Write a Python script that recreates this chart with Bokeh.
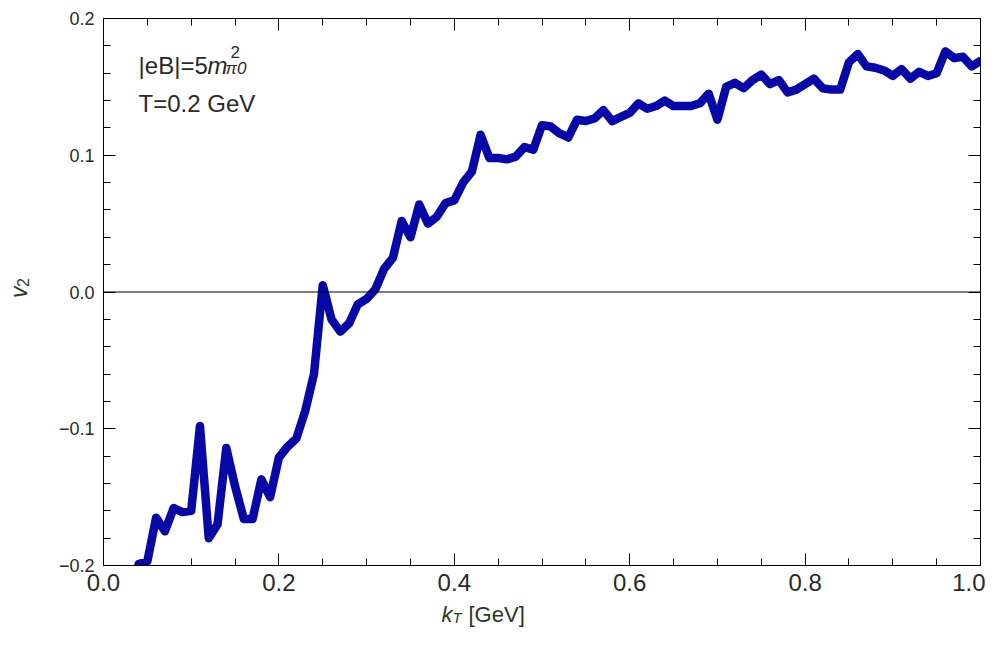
import numpy as np
from bokeh.plotting import figure
from bokeh.models import Range1d, FixedTicker, LinearAxis, Span, Label, CustomJSTickFormatter
from bokeh.layouts import column, row
from bokeh.embed import file_html
from bokeh.resources import INLINE

# ---- data ----
kt = [0.04, 0.05, 0.06, 0.07, 0.08, 0.09, 0.10, 0.11, 0.12, 0.13,
      0.14, 0.15, 0.16, 0.17, 0.18, 0.19, 0.20, 0.21, 0.22, 0.23,
      0.24, 0.25, 0.26, 0.27, 0.28, 0.29, 0.30, 0.31, 0.32, 0.33,
      0.34, 0.35, 0.36, 0.37, 0.38, 0.39, 0.40, 0.41, 0.42, 0.43,
      0.44, 0.45, 0.46, 0.47, 0.48, 0.49, 0.50, 0.51, 0.52, 0.53,
      0.54, 0.55, 0.56, 0.57, 0.58, 0.59, 0.60, 0.61, 0.62, 0.63,
      0.64, 0.65, 0.66, 0.67, 0.68, 0.69, 0.70, 0.71, 0.72, 0.73,
      0.74, 0.75, 0.76, 0.77, 0.78, 0.79, 0.80, 0.81, 0.82, 0.83,
      0.84, 0.85, 0.86, 0.87, 0.88, 0.89, 0.90, 0.91, 0.92, 0.93,
      0.94, 0.95, 0.96, 0.97, 0.98, 0.99, 1.00]

v2 = [-0.199, -0.197, -0.165, -0.175, -0.158, -0.161, -0.160, -0.098, -0.180, -0.170,
      -0.114, -0.142, -0.166, -0.166, -0.137, -0.150, -0.121, -0.113, -0.107, -0.087,
      -0.060, 0.005, -0.020, -0.029, -0.023, -0.009, -0.005, 0.002, 0.017, 0.025,
      0.052, 0.040, 0.064, 0.050, 0.055, 0.065, 0.067, 0.080, 0.088, 0.115,
      0.098, 0.098, 0.097, 0.099, 0.106, 0.104, 0.122, 0.121, 0.116, 0.113,
      0.126, 0.125, 0.127, 0.133, 0.125, 0.128, 0.131, 0.138, 0.134, 0.136,
      0.140, 0.136, 0.136, 0.136, 0.138, 0.145, 0.126, 0.150, 0.153, 0.149,
      0.155, 0.159, 0.152, 0.155, 0.146, 0.148, 0.152, 0.156, 0.149, 0.148,
      0.148, 0.168, 0.174, 0.165, 0.164, 0.162, 0.158, 0.163, 0.156, 0.161,
      0.158, 0.160, 0.176, 0.171, 0.172, 0.165, 0.169]

x_major = [0.0, 0.2, 0.4, 0.6, 0.8, 1.0]
x_minor = [0.05, 0.10, 0.15, 0.25, 0.30, 0.35, 0.45, 0.50, 0.55,
           0.65, 0.70, 0.75, 0.85, 0.90, 0.95]
x_labels = ["0.0", "0.2", "0.4", "0.6", "0.8", "1.0"]
y_major = [-0.2, -0.1, 0.0, 0.1, 0.2]
y_minor = [-0.18, -0.16, -0.14, -0.12, -0.08, -0.06, -0.04, -0.02,
           0.02, 0.04, 0.06, 0.08, 0.12, 0.14, 0.16, 0.18]
y_labels = ["\u22120.2", "\u22120.1", "0.0", "0.1", "0.2"]

FONT = "Liberation Sans"
TXT = "#2a2a2a"
LBL = "#243a24"

LEFT_W = 40
MAIN_W = 945
MAIN_H = 601
BOT_H = 28

# ---- main figure ----
p = figure(width=MAIN_W, height=MAIN_H, x_range=Range1d(0, 1), y_range=Range1d(-0.2, 0.2),
           output_backend="svg", toolbar_location=None,
           min_border_left=63, min_border_right=5, min_border_top=18, min_border_bottom=36)
p.xgrid.visible = False
p.ygrid.visible = False
p.outline_line_color = "black"
p.outline_line_width = 1

def style(ax):
    ax.axis_line_color = "black"
    ax.major_tick_line_color = "black"
    ax.minor_tick_line_color = "black"
    ax.major_tick_in = 12
    ax.major_tick_out = 0
    ax.minor_tick_in = 7
    ax.minor_tick_out = 0

xa = p.xaxis[0]
xa.ticker = FixedTicker(ticks=x_major, minor_ticks=x_minor)
xa.major_label_overrides = {v: s for v, s in zip(x_major, x_labels)}
xa.major_label_text_font = FONT
xa.major_label_text_font_size = "24px"
xa.major_label_text_color = TXT
xa.major_label_standoff = 8
style(xa)

ya = p.yaxis[0]
ya.ticker = FixedTicker(ticks=y_major, minor_ticks=y_minor)
ya.major_label_overrides = {v: s for v, s in zip(y_major, y_labels)}
ya.major_label_text_font = FONT
ya.major_label_text_font_size = "18px"
ya.major_label_text_color = TXT
ya.major_label_standoff = 9
style(ya)

blank = CustomJSTickFormatter(code="return ''")
top = LinearAxis(ticker=FixedTicker(ticks=x_major, minor_ticks=x_minor), formatter=blank,
                 major_label_standoff=0)
style(top)
p.add_layout(top, "above")
right = LinearAxis(ticker=FixedTicker(ticks=y_major, minor_ticks=y_minor), formatter=blank,
                   major_label_standoff=0)
style(right)
p.add_layout(right, "right")

p.add_layout(Span(location=0, dimension="width", line_color="black", line_width=1))

p.line(kt, v2, line_width=8.5, line_color="#0808A6", line_join="round", line_cap="round")

def lab(fig, x, y, text, size, italic=False, xo=0, yo=0, angle=0.0, color=TXT):
    fig.add_layout(Label(x=x, y=y, x_offset=xo, y_offset=yo, text=text, angle=angle,
                         text_font=FONT, text_font_size=size, text_color=color,
                         text_font_style="italic" if italic else "normal",
                         text_baseline="alphabetic", text_align="left"))

# annotation inside the frame
lab(p, 0.04, 0.1656, "|eB|=5", "24px")
lab(p, 0.04, 0.1656, "m", "24px", italic=True, xo=69)
lab(p, 0.04, 0.1656, "2", "17px", xo=92, yo=14)
lab(p, 0.04, 0.1656, "\u03c00", "17px", italic=True, xo=87, yo=-3)
lab(p, 0.04, 0.138, "T=0.2 GeV", "24px")

# ---- left strip: y-axis title (pixel coordinates) ----
pl = figure(width=LEFT_W, height=MAIN_H, x_range=Range1d(0, LEFT_W), y_range=Range1d(0, MAIN_H),
            output_backend="svg", toolbar_location=None,
            min_border=0, min_border_left=0, min_border_right=0, min_border_top=0, min_border_bottom=0)
pl.axis.visible = False
pl.grid.visible = False
pl.outline_line_color = None
lab(pl, 18, MAIN_H - 307, "v", "23px", italic=True, angle=np.pi / 2, color=LBL)
lab(pl, 22, MAIN_H - 295, "2", "16px", angle=np.pi / 2, color=LBL)

# ---- bottom strip: x-axis title (pixel coordinates) ----
W = LEFT_W + MAIN_W
pb = figure(width=W, height=BOT_H, x_range=Range1d(0, W), y_range=Range1d(0, BOT_H),
            output_backend="svg", toolbar_location=None,
            min_border=0, min_border_left=0, min_border_right=0, min_border_top=0, min_border_bottom=0)
pb.axis.visible = False
pb.grid.visible = False
pb.outline_line_color = None
lab(pb, 441, 15, "k", "22px", italic=True, color=LBL)
lab(pb, 452, 12, "T", "15px", italic=True, color=LBL)
lab(pb, 468, 15, "[GeV]", "22px", color=LBL)

layout = column(row(pl, p, spacing=0), pb, spacing=0)
open("out.html", "w").write(file_html(layout, INLINE))
